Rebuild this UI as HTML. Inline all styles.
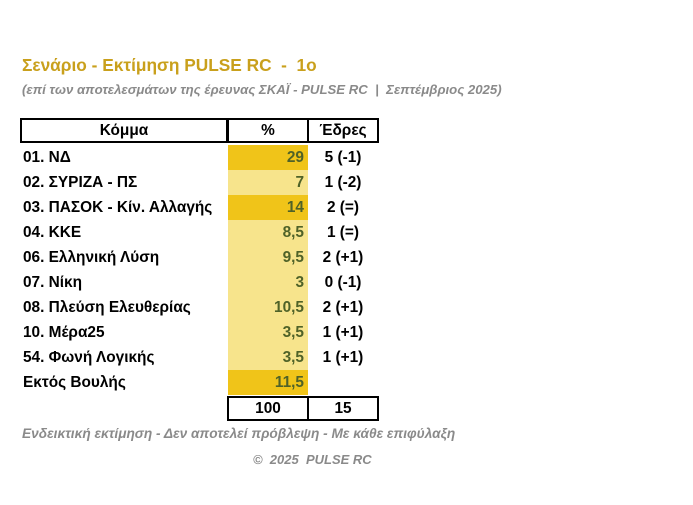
<!DOCTYPE html>
<html><head><meta charset="utf-8"><style>
body{margin:0;width:693px;height:505px;background:#fff;font-family:"Liberation Sans",sans-serif;position:relative;overflow:hidden}
.a{position:absolute;white-space:nowrap}
.t{left:22px;top:55px;font-size:17.3px;font-weight:bold;color:#C9A01C}
.s{left:22px;top:82px;font-size:13.2px;font-style:italic;font-weight:bold;color:#8a8a8a}
.c{position:absolute;height:25px;line-height:25px;font-size:15.4px;font-weight:bold;box-sizing:border-box}
.n{left:20px;width:208px;padding-left:3px;color:#000}
.p{left:228px;width:80px;text-align:right;padding-right:4px;color:#4F6228}
.e{left:308px;width:70px;text-align:center;color:#000}
.d{background:#F0C419}.l{background:#F7E48C}
.b{border:2px solid #000}
</style></head><body>
<div class="a t">Σενάριο - Εκτίμηση PULSE RC &nbsp;- &nbsp;1ο</div>
<div class="a s">(επί των αποτελεσμάτων της έρευνας ΣΚΑΪ - PULSE RC &nbsp;| &nbsp;Σεπτέμβριος 2025)</div>

<div class="c n b" style="top:118px;text-align:center;padding:0;line-height:22px">Κόμμα</div>
<div class="c b" style="left:227px;width:82px;top:118px;text-align:center;line-height:22px">%</div>
<div class="c e b" style="top:118px;left:307px;width:72px;line-height:22px">Έδρες</div>

<div class="c n" style="top:145px">01. ΝΔ</div><div class="c p d" style="top:145px">29</div><div class="c e" style="top:145px">5 (-1)</div>
<div class="c n" style="top:170px">02. ΣΥΡΙΖΑ - ΠΣ</div><div class="c p l" style="top:170px">7</div><div class="c e" style="top:170px">1 (-2)</div>
<div class="c n" style="top:195px">03. ΠΑΣΟΚ - Κίν. Αλλαγής</div><div class="c p d" style="top:195px">14</div><div class="c e" style="top:195px">2 (=)</div>
<div class="c n" style="top:220px">04. ΚΚΕ</div><div class="c p l" style="top:220px">8,5</div><div class="c e" style="top:220px">1 (=)</div>
<div class="c n" style="top:245px">06. Ελληνική Λύση</div><div class="c p l" style="top:245px">9,5</div><div class="c e" style="top:245px">2 (+1)</div>
<div class="c n" style="top:270px">07. Νίκη</div><div class="c p l" style="top:270px">3</div><div class="c e" style="top:270px">0 (-1)</div>
<div class="c n" style="top:295px">08. Πλεύση Ελευθερίας</div><div class="c p l" style="top:295px">10,5</div><div class="c e" style="top:295px">2 (+1)</div>
<div class="c n" style="top:320px">10. Μέρα25</div><div class="c p l" style="top:320px">3,5</div><div class="c e" style="top:320px">1 (+1)</div>
<div class="c n" style="top:345px">54. Φωνή Λογικής</div><div class="c p l" style="top:345px">3,5</div><div class="c e" style="top:345px">1 (+1)</div>
<div class="c n" style="top:370px">Εκτός Βουλής</div><div class="c p d" style="top:370px">11,5</div>

<div class="c b" style="left:227px;width:82px;top:396px;text-align:center;line-height:21px">100</div>
<div class="c b" style="left:307px;width:72px;top:396px;text-align:center;line-height:21px">15</div>

<div class="a" style="left:22px;top:426px;font-size:13.7px;font-style:italic;font-weight:bold;color:#8a8a8a">Ενδεικτική εκτίμηση - Δεν αποτελεί πρόβλεψη - Με κάθε επιφύλαξη</div>
<div class="a" style="left:253px;top:452px;font-size:13px;font-style:italic;font-weight:bold;color:#8a8a8a">© &nbsp;2025 &nbsp;PULSE RC</div>
</body></html>
